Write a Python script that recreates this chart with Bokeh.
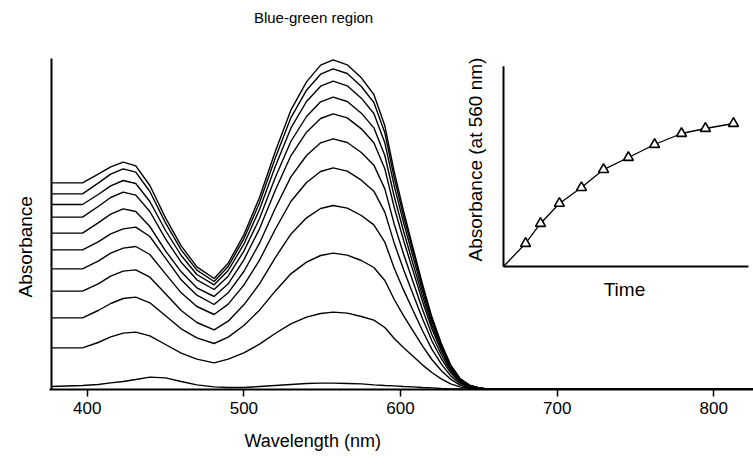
import math
from bokeh.plotting import figure
from bokeh.models import Range1d, FixedTicker, Label, Title
from bokeh.embed import file_html
from bokeh.resources import INLINE

# ---------------- data ----------------
wavelength = [377, 397, 407, 415, 423, 431, 440, 450, 460, 470, 481, 490, 500, 510,
              520, 530, 540, 549, 557, 566, 575, 583, 590, 596, 602, 608, 614, 620,
              626, 632, 638, 644, 650, 658, 825]

spec_01 = [.620, .620, .646, .668, .682, .671, .612, .515, .431, .368, .333, .379, .464, .576, .713, .838, .923, .973, .989, .974, .935, .885, .791, .653, .534, .425, .317, .218, .139, .074, .033, .013, .005, 0, 0]
spec_02 = [.587, .587, .619, .646, .662, .652, .594, .500, .419, .358, .324, .369, .452, .560, .694, .815, .898, .946, .962, .948, .909, .861, .770, .635, .519, .414, .308, .212, .135, .072, .032, .013, .005, 0, 0]
spec_03 = [.555, .555, .585, .611, .627, .618, .564, .477, .402, .345, .314, .357, .436, .540, .668, .784, .864, .910, .925, .911, .874, .828, .740, .611, .500, .398, .296, .204, .130, .069, .031, .012, .005, 0, 0]
spec_04 = [.517, .517, .549, .576, .592, .583, .534, .452, .382, .329, .300, .340, .415, .513, .635, .744, .819, .863, .877, .864, .829, .785, .702, .579, .474, .377, .281, .193, .123, .066, .029, .011, .004, 0, 0]
spec_05 = [.469, .469, .500, .526, .542, .534, .489, .416, .353, .305, .279, .317, .389, .482, .597, .701, .772, .813, .827, .815, .782, .740, .662, .546, .447, .356, .265, .182, .116, .062, .027, .011, .004, 0, 0]
spec_06 = [.419, .419, .443, .467, .482, .487, .459, .394, .329, .283, .255, .290, .354, .439, .543, .638, .702, .740, .752, .741, .711, .673, .602, .496, .406, .323, .241, .165, .105, .056, .025, .010, .004, 0, 0]
spec_07 = [.362, .362, .385, .409, .424, .429, .405, .347, .290, .249, .225, .256, .313, .388, .480, .564, .621, .654, .665, .655, .628, .595, .532, .439, .359, .286, .213, .146, .093, .050, .022, .009, .003, 0, 0]
spec_08 = [.295, .295, .317, .340, .355, .359, .337, .287, .237, .201, .179, .205, .254, .317, .395, .466, .515, .543, .552, .544, .522, .494, .442, .364, .298, .237, .177, .121, .077, .041, .018, .007, .003, 0, 0]
spec_09 = [.215, .215, .237, .258, .273, .277, .260, .221, .182, .155, .138, .157, .192, .238, .295, .347, .382, .402, .409, .403, .387, .366, .327, .270, .221, .176, .131, .090, .057, .031, .013, .005, .002, 0, 0]
spec_10 = [.125, .125, .141, .158, .169, .172, .161, .135, .109, .091, .080, .091, .110, .136, .168, .197, .217, .228, .232, .229, .219, .208, .186, .153, .125, .100, .074, .051, .032, .017, .008, .003, .001, 0, 0]
spec_11 = [.009, .012, .015, .020, .024, .030, .037, .035, .024, .014, .008, .006, .006, .009, .012, .015, .018, .019, .019, .018, .017, .014, .012, .011, .009, .008, .006, .005, .003, .002, .002, .001, 0, 0, 0]

spectra = [spec_01, spec_02, spec_03, spec_04, spec_05, spec_06,
           spec_07, spec_08, spec_09, spec_10, spec_11]

x_ticks = [400, 500, 600, 700, 800]

# main absorbance axis extent (data units) and where it stands on the wavelength axis
abs_axis = [0, 0.993]
abs_axis_at = 377.2

# inset: absorbance at 560 nm vs time (arbitrary units)
inset_time = [0.96, 1.61, 2.43, 3.39, 4.35, 5.43, 6.57, 7.74, 8.78, 10.0]
inset_abs560 = [0.161, 0.301, 0.441, 0.552, 0.678, 0.762, 0.853, 0.930, 0.965, 1.0]
inset_time_axis = [0, 10.65]
inset_abs_axis = [0, 1.40]

FONT = "Liberation Sans"

# ---------------- figure ----------------
p = figure(width=753, height=465,
           x_range=Range1d(375.93, 825.34), y_range=Range1d(0, 1.167),
           output_backend="svg", toolbar_location=None,
           min_border_left=49, min_border_right=0,
           min_border_top=0, min_border_bottom=76)
p.title = None
p.grid.visible = False
p.outline_line_color = None
p.background_fill_color = "white"
p.border_fill_color = "white"
p.yaxis.visible = False

p.extra_x_ranges = {"t": Range1d(-19.739, 10.870)}
p.extra_y_ranges = {"a": Range1d(-0.860, 1.860)}

# x axis
xa = p.xaxis[0]
xa.ticker = FixedTicker(ticks=x_ticks)
xa.minor_tick_line_color = None
xa.major_tick_out = 7
xa.major_tick_in = 0
xa.major_tick_line_width = 1.5
xa.major_tick_line_color = "black"
xa.axis_line_width = 2
xa.axis_line_color = "black"
xa.major_label_text_font = FONT
xa.major_label_text_font_size = "17px"
xa.major_label_text_color = "black"
xa.major_label_standoff = 5

# axis titles as side panels
p.add_layout(Title(text="Wavelength (nm)", text_font=FONT, text_font_size="18px",
                   text_font_style="normal", text_color="black",
                   align="left", offset=195, standoff=27,
                   vertical_align="middle"), "below")
p.add_layout(Title(text="Absorbance", text_font=FONT, text_font_size="19px",
                   text_font_style="normal", text_color="black",
                   align="left", offset=92, standoff=26,
                   vertical_align="middle"), "left")

# main absorbance axis line
p.line([abs_axis_at, abs_axis_at], abs_axis, line_color="black", line_width=2)

# spectra
for s in spectra:
    p.line(wavelength, s, line_color="black", line_width=1.4)

# inset axes
p.line(inset_time_axis, [0, 0], x_range_name="t", y_range_name="a",
       line_color="black", line_width=2)
p.line([0, 0], inset_abs_axis, x_range_name="t", y_range_name="a",
       line_color="black", line_width=2)

# inset data
p.line([0] + inset_time, [0] + inset_abs560, x_range_name="t", y_range_name="a",
       line_color="black", line_width=1.3)
p.scatter(inset_time, inset_abs560, x_range_name="t", y_range_name="a",
          marker="triangle", size=10, fill_color="white",
          line_color="black", line_width=1.6)

# texts inside the frame
p.add_layout(Label(x=544.5, y=1.116, text="Blue-green region", text_font=FONT,
                   text_font_size="15px", text_align="center",
                   text_baseline="middle", text_color="black"))
p.add_layout(Label(x=-1.2, y=0.748, text="Absorbance (at 560 nm)", text_font=FONT,
                   text_font_size="19px", text_align="center",
                   text_baseline="middle", angle=math.pi / 2,
                   x_range_name="t", y_range_name="a", text_color="black"))
p.add_layout(Label(x=5.26, y=-0.161, text="Time", text_font=FONT,
                   text_font_size="19px", text_align="center",
                   text_baseline="middle",
                   x_range_name="t", y_range_name="a", text_color="black"))

open("out.html", "w").write(file_html(p, INLINE))
